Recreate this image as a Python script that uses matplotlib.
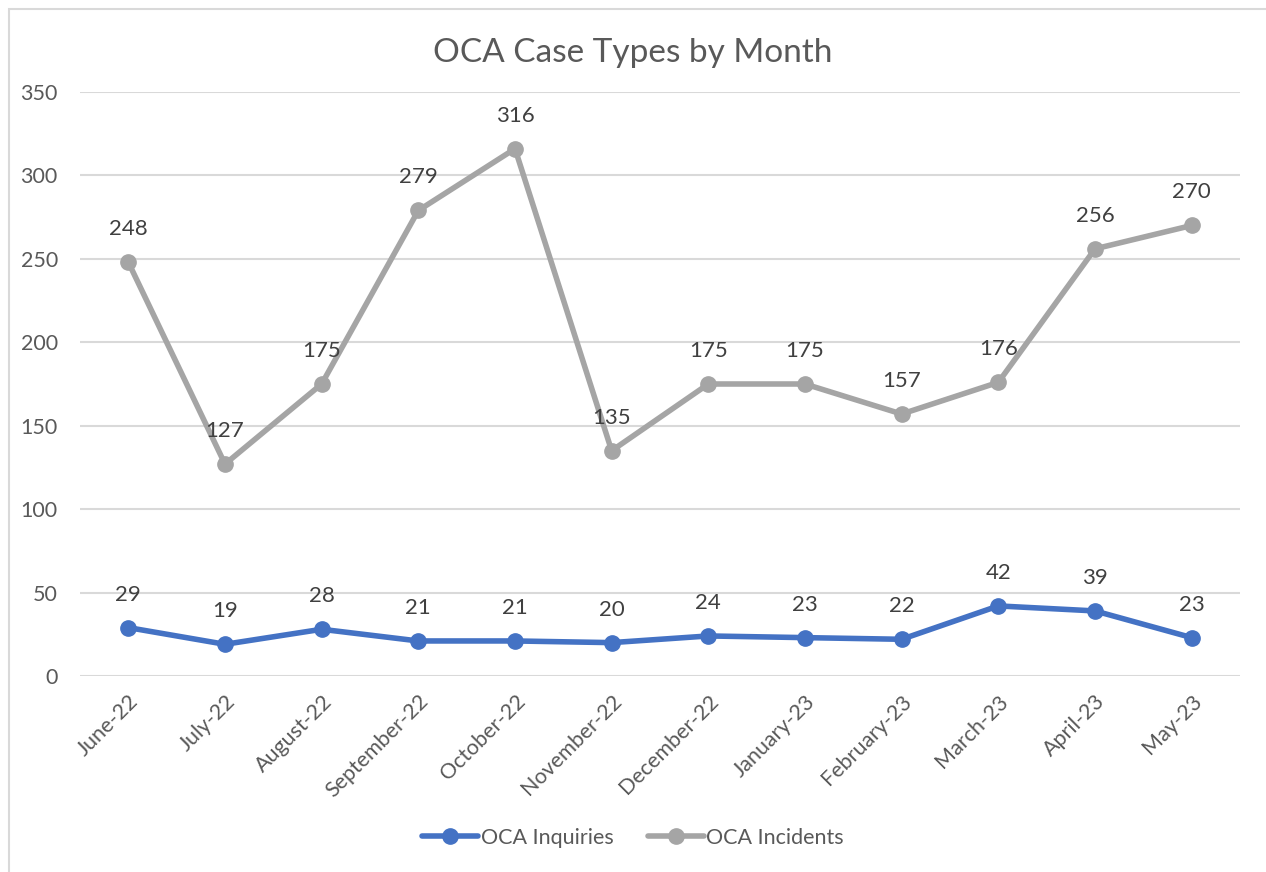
import matplotlib.pyplot as plt
from matplotlib.patches import Rectangle

# data
months = ['June-22', 'July-22', 'August-22', 'September-22', 'October-22', 'November-22',
          'December-22', 'January-23', 'February-23', 'March-23', 'April-23', 'May-23']
inquiries = [29, 19, 28, 21, 21, 20, 24, 23, 22, 42, 39, 23]
incidents = [248, 127, 175, 279, 316, 135, 175, 175, 157, 176, 256, 270]
y_ticks = [0, 50, 100, 150, 200, 250, 300, 350]

text_color = '#595959'
blue = '#4472C4'
gray = '#A5A5A5'

plt.rcParams['font.family'] = ['Lato', 'DejaVu Sans']

fig = plt.figure(figsize=(12.66, 8.72), dpi=100)
ax = fig.add_axes([80 / 1266, 1 - 676 / 872, 1160 / 1266, 584 / 872])

# chart area border
fig.patches.append(Rectangle((8.5 / 1266, -0.1), 1.2, (872 - 9.5) / 872 + 0.1,
                             transform=fig.transFigure, fill=False,
                             edgecolor='#D9D9D9', linewidth=1.5))

x = list(range(len(months)))
ax.plot(x, inquiries, color=blue, linewidth=4, marker='o', markersize=11,
        label='OCA Inquiries', solid_capstyle='round', zorder=3)
ax.plot(x, incidents, color=gray, linewidth=4, marker='o', markersize=11,
        label='OCA Incidents', solid_capstyle='round', zorder=3)

# data labels
for series in (inquiries, incidents):
    for xi, v in zip(x, series):
        ax.annotate(str(v), (xi, v), xytext=(0, 33), textcoords='offset pixels',
                    ha='center', va='center', fontsize=16, color='#404040')

ax.set_xlim(-0.5, len(months) - 0.5)
ax.set_ylim(0, 350)
ax.set_yticks(y_ticks)
ax.set_xticks(x)
ax.set_xticklabels(months, rotation=45, ha='right', rotation_mode='anchor')
ax.tick_params(axis='both', length=0, labelsize=15.5, labelcolor=text_color)
ax.tick_params(axis='y', pad=16)
ax.tick_params(axis='x', pad=11)
ax.grid(axis='y', color='#D9D9D9', linewidth=1.5)
ax.set_axisbelow(True)
for s in ax.spines.values():
    s.set_visible(False)

fig.text(0.5, 1 - 53 / 872, 'OCA Case Types by Month', ha='center', va='center',
         fontsize=24, color=text_color)

fig.legend(loc='center', bbox_to_anchor=(0.5, 1 - 838 / 872), ncol=2, frameon=False,
           fontsize=15.5, labelcolor=text_color, handlelength=2.6, handletextpad=0.1,
           columnspacing=1.6)

fig.savefig('out.png', dpi=100)
